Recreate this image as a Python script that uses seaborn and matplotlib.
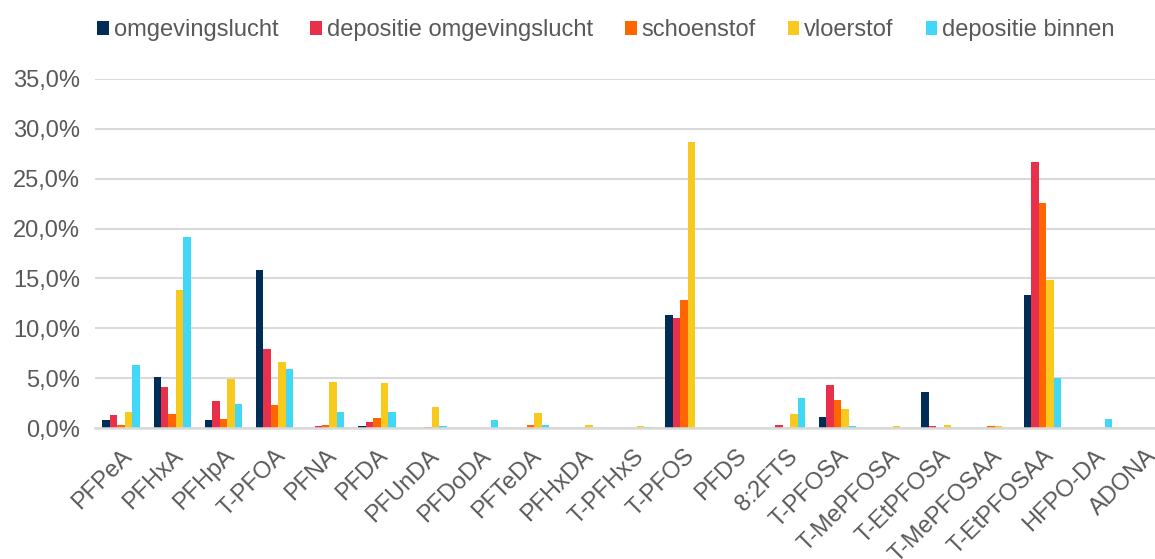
import pandas as pd
import numpy as np
import matplotlib
matplotlib.use("Agg")
import matplotlib.pyplot as plt
import matplotlib.transforms as mtransforms
import seaborn as sns
from matplotlib.ticker import FuncFormatter

# DATA (percentages)
categories = ["PFPeA", "PFHxA", "PFHpA", "T-PFOA", "PFNA", "PFDA", "PFUnDA", "PFDoDA",
              "PFTeDA", "PFHxDA", "T-PFHxS", "T-PFOS", "PFDS", "8:2FTS", "T-PFOSA",
              "T-MePFOSA", "T-EtPFOSA", "T-MePFOSAA", "T-EtPFOSAA", "HFPO-DA", "ADONA"]

series_names = ["omgevingslucht", "depositie omgevingslucht", "schoenstof", "vloerstof", "depositie binnen"]

omgevingslucht = [0.8, 5.1, 0.8, 15.8, 0.0, 0.17, 0.0, 0.0, 0.0, 0.0, 0.0,
                  11.3, 0.0, 0.0, 1.17, 0.0, 3.67, 0.0, 13.37, 0.0, 0.0]
depositie_omgevingslucht = [1.3, 4.1, 2.7, 7.9, 0.17, 0.67, 0.0, 0.0, 0.0, 0.0, 0.0,
                            11.0, 0.0, 0.37, 4.37, 0.0, 0.17, 0.0, 26.7, 0.0, 0.0]
schoenstof = [0.3, 1.4, 0.9, 2.3, 0.3, 1.0, 0.1, 0.0, 0.37, 0.0, 0.0,
              12.8, 0.0, 0.0, 2.8, 0.0, 0.0, 0.17, 22.57, 0.0, 0.0]
vloerstof = [1.6, 13.8, 4.9, 6.6, 4.6, 4.5, 2.1, 0.0, 1.53, 0.27, 0.23,
             28.7, 0.0, 1.43, 1.97, 0.2, 0.37, 0.23, 14.87, 0.0, 0.0]
depositie_binnen = [6.3, 19.2, 2.4, 5.9, 1.6, 1.6, 0.23, 0.85, 0.33, 0.0, 0.1,
                    0.0, 0.0, 3.07, 0.23, 0.0, 0.0, 0.0, 5.07, 0.9, 0.0]

colors = ["#002D56", "#E8304A", "#FF6600", "#F9CA1E", "#40D8F6"]

# BUILD LONG TABLE
values = [omgevingslucht, depositie_omgevingslucht, schoenstof, vloerstof, depositie_binnen]
df = pd.concat([pd.DataFrame({"stof": categories, "bron": name, "aandeel": vals})
                for name, vals in zip(series_names, values)], ignore_index=True)

plt.rcParams["font.family"] = ["Liberation Sans", "DejaVu Sans"]
text_color = "#595959"
grid_color = "#D9D9D9"

fig = plt.figure(figsize=(11.55, 5.59), dpi=100)
ax = fig.add_axes([0.0826, 0.234, 0.9174, 0.625])

sns.barplot(data=df, x="stof", y="aandeel", hue="bron", hue_order=series_names,
            order=categories, palette=colors, width=0.73, linewidth=0,
            saturation=1, ax=ax, legend=True)

ax.set_xlim(-0.5, 20.2)
ax.set_ylim(0, 35)
ax.set_yticks(np.arange(0, 36, 5))
ax.yaxis.set_major_formatter(FuncFormatter(lambda v, p: f"{v:.1f}%".replace(".", ",")))
ax.grid(axis="y", color=grid_color, linewidth=1.5)
ax.set_axisbelow(True)
ax.set_xlabel("")
ax.set_ylabel("")

for side in ["top", "right", "left"]:
    ax.spines[side].set_visible(False)
ax.spines["bottom"].set_color(grid_color)
ax.spines["bottom"].set_linewidth(1.8)

ax.tick_params(axis="both", length=0, labelsize=17, colors=text_color)
ax.tick_params(axis="y", pad=11)
shift = mtransforms.ScaledTranslation(0, -12 / 100, fig.dpi_scale_trans)
for lbl in ax.get_xticklabels():
    lbl.set_rotation(45)
    lbl.set_ha("right")
    lbl.set_rotation_mode("anchor")
    lbl.set_transform(lbl.get_transform() + shift)

# LEGEND
handles, labels = ax.get_legend_handles_labels()
ax.get_legend().remove()
fig.legend(handles, labels, loc="center left", bbox_to_anchor=(0.0762, 0.946), ncol=5,
           frameon=False, fontsize=17, handlelength=0.5, handleheight=0.55,
           handletextpad=0.2, columnspacing=1.35, labelcolor=text_color, borderaxespad=0)

plt.savefig("out.png", dpi=100)
